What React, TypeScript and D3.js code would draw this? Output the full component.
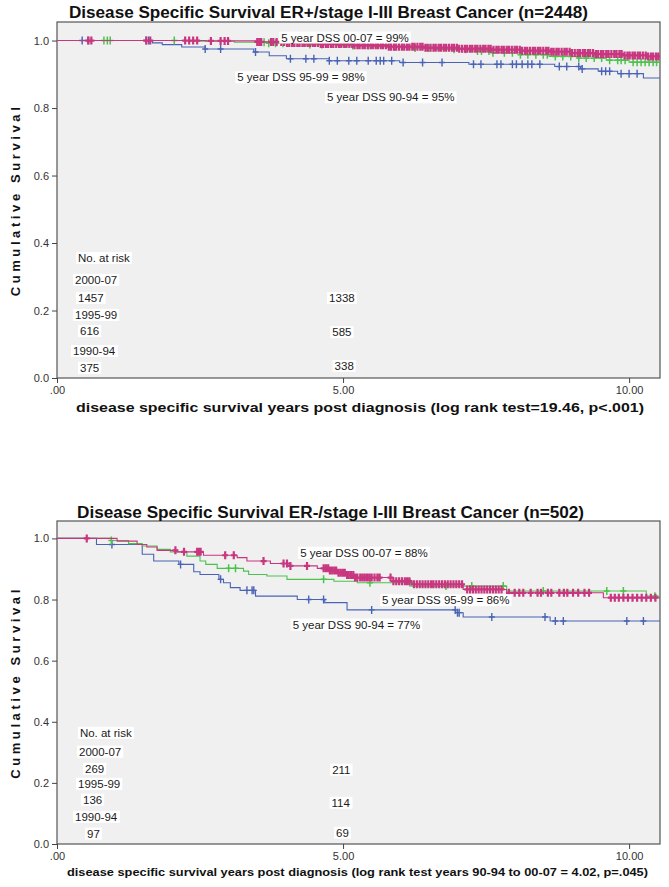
import * as d3 from "d3";
import { useEffect, useRef } from "react";

// Kaplan-Meier steps as [years, cumulative survival]
const erPosSteps9094 = [
  [0, 1], [1.67, 0.993], [1.84, 0.988], [2.18, 0.981], [2.59, 0.975], [3.44, 0.966],
  [3.71, 0.955], [4.01, 0.946], [4.76, 0.94], [5.99, 0.935], [7.2, 0.93], [8.7, 0.923],
  [9.15, 0.916], [9.46, 0.909], [9.8, 0.902], [10.25, 0.889],
];
const erPosSteps9599 = [
  [0, 1], [2.3, 0.998], [3.1, 0.995], [3.7, 0.992], [4.3, 0.988], [4.9, 0.985], [5.5, 0.982],
  [6.1, 0.978], [6.6, 0.974], [7.2, 0.969], [7.6, 0.964], [8.1, 0.958], [8.6, 0.953],
  [9.1, 0.948], [9.6, 0.942], [10.0, 0.936],
];
const erPosSteps0007 = [
  [0, 1], [2.6, 0.999], [3.5, 0.996], [4.0, 0.993], [4.6, 0.99], [5.2, 0.986], [5.8, 0.982],
  [6.4, 0.979], [7.0, 0.976], [7.6, 0.973], [8.1, 0.97], [8.6, 0.967], [9.0, 0.963],
  [9.4, 0.96], [9.9, 0.956], [10.3, 0.953],
];

// censored times (years)
const erPosCens9094 = [
  0.44, 0.54, 1.56, 1.6, 2.59, 2.86, 3.47, 4.08, 4.35, 4.49, 4.76, 4.9, 5.1, 5.24, 5.44, 5.58,
  5.65, 5.71, 5.85, 6.05, 6.39, 6.73, 7.28, 7.41, 7.69, 7.76, 7.96, 8.03, 8.13, 8.23, 8.3,
  8.44, 8.78, 8.91, 9.12, 9.18, 9.52, 9.59, 9.66, 9.86, 10.0, 10.14,
];
const erPosCens9599 = [
  0.82, 0.88, 0.93, 2.05, 3.62, 3.7, 3.82, 3.95, 4.42, 4.63, 5.17, 5.44, 5.9, 6.26, 6.5, 6.94,
  7.14, 7.35, 7.42, 7.55, 7.62, 7.82, 7.96, 8.1, 8.23, 8.37, 8.5, 8.57, 8.71, 8.84, 8.98,
  9.12, 9.25, 9.39, 9.52, 9.66, 9.8, 9.86, 9.93, 10.07, 10.14, 10.21, 10.28, 10.35, 10.42, 10.48,
];
const erPosCens0007 = [
  0.55, 0.6, 1.56, 1.63, 2.24, 2.31, 2.38, 2.45, 2.69, 2.86, 2.93, 2.99, 3.5, 3.54, 3.57, 3.74,
  3.78, 3.84, 3.92, 3.97, 4.02, 4.06, 4.11, 4.15, 4.2, 4.24, 4.29, 4.33, 4.38, 4.42, 4.47, 4.51,
  4.56, 4.61, 4.65, 4.7, 4.74, 4.79, 4.83, 4.88, 4.93, 4.97, 5.02, 5.06, 5.11, 5.16, 5.2,
  5.25, 5.29, 5.34, 5.38, 5.43, 5.48, 5.52, 5.57, 5.61, 5.66, 5.7, 5.75, 5.8, 5.84, 5.89,
  5.93, 5.98, 6.03, 6.07, 6.12, 6.16, 6.21, 6.25, 6.3, 6.35, 6.39, 6.44, 6.48, 6.53, 6.58,
  6.62, 6.67, 6.71, 6.76, 6.8, 6.85, 6.9, 6.94, 6.99, 7.03, 7.08, 7.13, 7.17, 7.22, 7.26,
  7.31, 7.35, 7.4, 7.45, 7.49, 7.54, 7.58, 7.63, 7.68, 7.72, 7.77, 7.81, 7.86, 7.9, 7.95,
  8.0, 8.04, 8.09, 8.13, 8.18, 8.22, 8.27, 8.32, 8.36, 8.41, 8.45, 8.5, 8.55, 8.59, 8.64,
  8.68, 8.73, 8.77, 8.82, 8.87, 8.91, 8.96, 9.0, 9.05, 9.1, 9.14, 9.19, 9.23, 9.28, 9.32,
  9.37, 9.42, 9.46, 9.51, 9.55, 9.6, 9.64, 9.69, 9.74, 9.78, 9.83, 9.87, 9.92, 9.97, 10.01,
  10.06, 10.1, 10.15, 10.19, 10.24, 10.29, 10.33, 10.38, 10.42, 10.47, 10.51,
];

const erNegSteps9094 = [
  [0, 1], [0.69, 0.98], [1.49, 0.948], [1.69, 0.926], [2.13, 0.915], [2.39, 0.891],
  [2.5, 0.882], [2.83, 0.866], [2.91, 0.855], [3.03, 0.839], [3.2, 0.83], [3.47, 0.811],
  [4.2, 0.8], [4.68, 0.79], [5.07, 0.766], [6.97, 0.757], [7.1, 0.743], [8.62, 0.73],
];
const erNegSteps9599 = [
  [0, 1], [0.95, 0.993], [1.25, 0.983], [1.49, 0.975], [1.75, 0.964], [1.98, 0.956],
  [2.27, 0.942], [2.5, 0.926], [2.6, 0.915], [2.8, 0.902], [3.26, 0.893], [3.35, 0.882],
  [3.67, 0.877], [4.02, 0.866], [4.84, 0.86], [5.25, 0.855], [6.2, 0.844], [7.86, 0.828],
  [10.3, 0.811],
];
const erNegSteps0007 = [
  [0, 1], [1.05, 0.991], [1.4, 0.98], [1.57, 0.972], [1.75, 0.961], [2.1, 0.956],
  [2.56, 0.945], [3.15, 0.937], [3.32, 0.926], [3.73, 0.918], [4.08, 0.91], [4.55, 0.902],
  [4.75, 0.895], [4.9, 0.888], [5.05, 0.88], [5.2, 0.872], [5.88, 0.86], [6.2, 0.85],
  [7.1, 0.833], [7.86, 0.822], [9.55, 0.806],
];

const erNegCens9094 = [
  0.96, 2.16, 2.86, 3.32, 3.41, 3.44, 4.4, 4.66, 5.5, 6.96, 7.0, 7.03, 7.6, 8.53, 8.71,
  8.85, 9.96, 10.25,
];
const erNegCens9599 = [
  0.95, 3.0, 3.12, 4.66, 5.47, 6.17, 6.8, 7.25, 7.8, 8.5, 9.61, 9.9, 10.45,
];
const erNegCens0007 = [
  0.52, 2.07, 2.22, 2.45, 2.48, 2.51, 2.94, 3.09, 3.61, 3.96, 4.02, 4.08, 4.37, 4.66, 4.7,
  4.74, 4.77, 4.81, 4.85, 4.88, 4.92, 4.96, 5.0, 5.03, 5.07, 5.1, 5.14, 5.18, 5.21, 5.25,
  5.3, 5.34, 5.38, 5.42, 5.46, 5.5, 5.55, 5.6, 5.64, 5.83, 5.88, 5.93, 5.98, 6.03, 6.08,
  6.12, 6.16, 6.24, 6.29, 6.34, 6.39, 6.44, 6.49, 6.54, 6.58, 6.63, 6.68, 6.73, 6.78,
  6.83, 6.88, 6.93, 6.98, 7.03, 7.08, 7.17, 7.22, 7.27, 7.32, 7.37, 7.42, 7.47, 7.52,
  7.57, 7.62, 7.67, 7.72, 7.77, 7.9, 8.0, 8.08, 8.15, 8.28, 8.4, 8.46, 8.58, 8.64, 8.78,
  8.86, 8.92, 9.02, 9.11, 9.22, 9.3, 9.68, 9.75, 9.82, 9.9, 9.98, 10.06, 10.14, 10.22,
  10.3, 10.38, 10.46,
];

const riskCohorts = ["2000-07", "1995-99", "1990-94"];
const erPosRiskStart = [1457, 616, 375];
const erPosRisk5 = [1338, 585, 338];
const erNegRiskStart = [269, 136, 97];
const erNegRisk5 = [211, 114, 69];

const dssCohorts = ["00-07", "95-99", "90-94"];
const erPosDss5 = [99, 98, 95];
const erNegDss5 = [88, 86, 77];

const xTicks = [0, 5, 10];
const yTicks = [0, 0.2, 0.4, 0.6, 0.8, 1.0];
const X_MAX = 10.54;

// drawn in this order: 1990-94, 1995-99, 2000-07
const lineColors = ["#4963b6", "#4cc24c", "#c8367f"];
const censorWidths = [1.4, 1.5, 2.2];

const FONT = "'Liberation Sans', Arial, sans-serif";

const panels = [
  {
    title: "Disease Specific Survival ER+/stage I-III Breast Cancer (n=2448)",
    titleX: 328.5, titleW: 519,
    xLabel: "disease specific survival years post diagnosis (log rank test=19.46, p<.001)",
    xLabelSize: 12.5, xLabelX: 360, xLabelW: 568,
    top: 22, bottom: 378, yMax: 1.055,
    titleY: 18, xLabelY: 412,
    steps: [erPosSteps9094, erPosSteps9599, erPosSteps0007],
    cens: [erPosCens9094, erPosCens9599, erPosCens0007],
    riskStart: erPosRiskStart, risk5: erPosRisk5, dss: erPosDss5,
    // label spots in data units [years, survival]
    headPos: [0.367, 0.356],
    groupPos: [[0.315, 0.291], [0.315, 0.187], [0.28, 0.08]],
    startPos: [[0.367, 0.237], [0.402, 0.139], [0.402, 0.03]],
    fivePos: [[4.98, 0.237], [4.98, 0.136], [5.02, 0.036]],
    dssPos: [[3.92, 1.009], [3.15, 0.891], [4.72, 0.832]],
  },
  {
    title: "Disease Specific Survival ER-/stage I-III Breast Cancer (n=502)",
    titleX: 330.5, titleW: 507,
    xLabel: "disease specific survival years post diagnosis (log rank test years 90-94 to 00-07 = 4.02, p=.045)",
    xLabelSize: 10.5, xLabelX: 357.5, xLabelW: 581,
    top: 521, bottom: 844, yMax: 1.057,
    titleY: 518, xLabelY: 876,
    steps: [erNegSteps9094, erNegSteps9599, erNegSteps0007],
    cens: [erNegCens9094, erNegCens9599, erNegCens0007],
    riskStart: erNegRiskStart, risk5: erNegRisk5, dss: erNegDss5,
    headPos: [0.4, 0.364],
    groupPos: [[0.385, 0.302], [0.368, 0.197], [0.315, 0.089]],
    startPos: [[0.49, 0.246], [0.455, 0.145], [0.525, 0.034]],
    fivePos: [[4.97, 0.243], [4.96, 0.135], [4.99, 0.037]],
    dssPos: [[4.25, 0.953], [5.68, 0.798], [4.12, 0.718]],
  },
];

const survAt = (steps, t) => {
  let s = 1;
  for (const [st, sv] of steps) if (st <= t) s = sv;
  return s;
};

const boxedText = (g, x, y, text, anchor) => {
  const grp = g.append("g");
  const rect = grp.append("rect").attr("fill", "#fff");
  const t = grp
    .append("text")
    .attr("x", x)
    .attr("y", y)
    .attr("dy", "0.35em")
    .attr("text-anchor", anchor)
    .attr("font-size", 11.5)
    .attr("fill", "#1a1a1a")
    .text(text);
  const bb = t.node().getBBox();
  rect
    .attr("x", bb.x - 2)
    .attr("y", bb.y)
    .attr("width", bb.width + 4)
    .attr("height", bb.height);
};

const drawPanel = (svg, p, idx) => {
  const left = 57;
  const right = 660;
  const x = d3.scaleLinear().domain([0, X_MAX]).range([left, right]);
  const y = d3.scaleLinear().domain([0, p.yMax]).range([p.bottom, p.top]);

  const g = svg.append("g").attr("font-family", FONT);

  g.append("rect")
    .attr("x", left)
    .attr("y", p.top)
    .attr("width", right - left)
    .attr("height", p.bottom - p.top)
    .attr("fill", "#f0f0f0")
    .attr("stroke", "#555")
    .attr("stroke-width", 1.2);

  g.append("text")
    .attr("x", p.titleX)
    .attr("y", p.titleY)
    .attr("text-anchor", "middle")
    .attr("font-size", 16)
    .attr("font-weight", "bold")
    .attr("fill", "#111")
    .attr("textLength", p.titleW)
    .attr("lengthAdjust", "spacingAndGlyphs")
    .text(p.title);

  // axes
  const yAxis = g
    .append("g")
    .attr("transform", `translate(${left},0)`)
    .call(d3.axisLeft(y).tickValues(yTicks).tickFormat(d3.format(".1f")).tickSize(5));
  const xAxis = g
    .append("g")
    .attr("transform", `translate(0,${p.bottom})`)
    .call(
      d3
        .axisBottom(x)
        .tickValues(xTicks)
        .tickFormat((d) => (d === 0 ? ".00" : d3.format(".2f")(d)))
        .tickSize(5)
    );
  [yAxis, xAxis].forEach((a) => {
    a.select(".domain").remove();
    a.selectAll("line").attr("stroke", "#444");
    a.selectAll("text").attr("font-family", FONT).attr("font-size", 11).attr("fill", "#333");
  });

  g.append("text")
    .attr("transform", `translate(20,${(p.top + p.bottom) / 2}) rotate(-90)`)
    .attr("text-anchor", "middle")
    .attr("font-size", 13)
    .attr("font-weight", "bold")
    .attr("letter-spacing", 3.6)
    .attr("fill", "#111")
    .text("Cumulative Survival");

  g.append("text")
    .attr("x", p.xLabelX)
    .attr("y", p.xLabelY)
    .attr("text-anchor", "middle")
    .attr("font-size", p.xLabelSize)
    .attr("font-weight", "bold")
    .attr("fill", "#111")
    .attr("textLength", p.xLabelW)
    .attr("lengthAdjust", "spacingAndGlyphs")
    .text(p.xLabel);

  // curves
  const clipId = `clip${idx}`;
  g.append("clipPath")
    .attr("id", clipId)
    .append("rect")
    .attr("x", left)
    .attr("y", p.top)
    .attr("width", right - left)
    .attr("height", p.bottom - p.top);
  const plot = g.append("g").attr("clip-path", `url(#${clipId})`);

  const line = d3
    .line()
    .x((d) => x(d[0]))
    .y((d) => y(d[1]))
    .curve(d3.curveStepAfter);

  p.steps.forEach((steps, i) => {
    const pts = [...steps, [X_MAX, steps[steps.length - 1][1]]];
    plot.append("path")
      .attr("d", line(pts))
      .attr("fill", "none")
      .attr("stroke", lineColors[i])
      .attr("stroke-width", 1.1);
    const marks = p.cens[i]
      .map((t) => {
        const cx = x(t);
        const cy = y(survAt(steps, t));
        return `M${cx - 3},${cy}h6M${cx},${cy - 4}v8`;
      })
      .join("");
    plot.append("path")
      .attr("d", marks)
      .attr("fill", "none")
      .attr("stroke", lineColors[i])
      .attr("stroke-width", censorWidths[i]);
  });

  // annotations
  const ann = g.append("g");
  dssCohorts.forEach((c, i) => {
    const [t, s] = p.dssPos[i];
    boxedText(ann, x(t), y(s), `5 year DSS ${c} = ${p.dss[i]}%`, "start");
  });
  boxedText(ann, x(p.headPos[0]), y(p.headPos[1]), "No. at risk", "start");
  riskCohorts.forEach((c, i) => {
    boxedText(ann, x(p.groupPos[i][0]), y(p.groupPos[i][1]), c, "start");
    boxedText(ann, x(p.startPos[i][0]), y(p.startPos[i][1]), String(p.riskStart[i]), "start");
    boxedText(ann, x(p.fivePos[i][0]), y(p.fivePos[i][1]), String(p.risk5[i]), "middle");
  });
};

const App = () => {
  const svgRef = useRef(null);

  useEffect(() => {
    const svg = d3.select(svgRef.current);
    svg.selectAll("*").remove();
    panels.forEach((p, i) => drawPanel(svg, p, i));
  }, []);

  return (
    <svg
      ref={svgRef}
      width={669}
      height={887}
      style={{ position: "absolute", left: 0, top: 0, background: "#fff" }}
    />
  );
};

export default App;
